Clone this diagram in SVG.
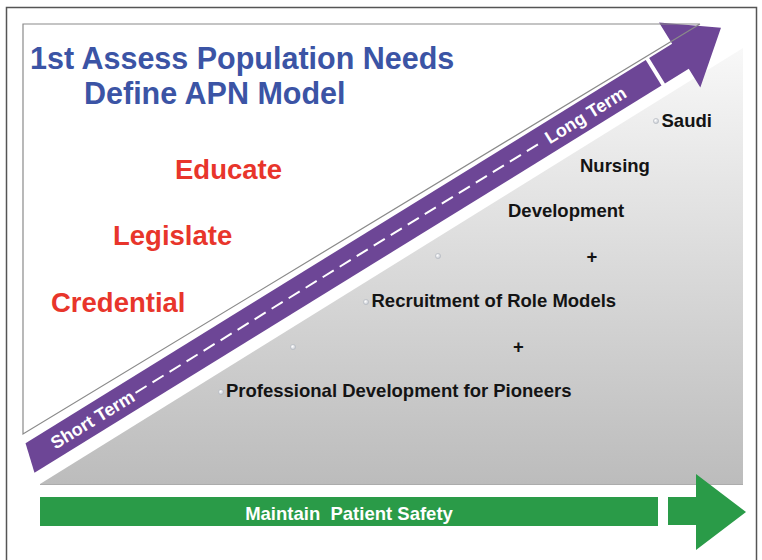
<svg xmlns="http://www.w3.org/2000/svg" width="762" height="560" viewBox="0 0 762 560">
<defs>
<linearGradient id="grayGrad" x1="0" y1="48" x2="0" y2="484" gradientUnits="userSpaceOnUse">
<stop offset="0" stop-color="#f8f8f8"/>
<stop offset="1" stop-color="#bcbcbc"/>
</linearGradient>
<radialGradient id="dotGrad" cx="0.4" cy="0.4" r="0.6">
<stop offset="0" stop-color="#ffffff"/>
<stop offset="1" stop-color="#c4c8d0"/>
</radialGradient>
</defs>
<style>
text{font-family:"Liberation Sans",Arial,Helvetica,sans-serif;font-weight:bold}
.title{font-size:30.5px;fill:#3b54a5}
.red{font-size:27.5px;fill:#e8352b}
.blk{font-size:18.5px;fill:#141414}
.wht{font-size:18px;fill:#ffffff}
.dot{fill:url(#dotGrad);stroke:#b4b8c0;stroke-width:0.6}
.purple{fill:#6d4696}
.green{fill:#2a9b48}
</style>
<rect width="762" height="560" fill="#ffffff"/>
<rect x="6.5" y="7.5" width="750" height="600" fill="#ffffff" stroke="#555555" stroke-width="1.5"/>

<g id="background-triangles">
<polygon points="23,24 700,24 23,434" fill="#ffffff"/>
<polygon points="40,484 743,48 743,484" fill="url(#grayGrad)"/>
<line x1="40" y1="484.5" x2="743" y2="484.5" stroke="#acacac" stroke-width="1"/>
</g>

<g id="connectors">
<g id="term-arrow" transform="translate(30,458) rotate(-31.7)">
<polygon class="purple" points="4,-15 733,-15 733,15 -4,15"/>
<polygon class="purple" points="737,-15 764,-15 764,-40 814,-3 765,37 765,15 737,15"/>
<line x1="124" y1="0" x2="604" y2="0" stroke="#ffffff" stroke-width="2" stroke-dasharray="13 7"/>
<text class="wht" x="26" y="6.5">Short Term</text>
<text class="wht" x="607" y="6.5">Long Term</text>
</g>
<g id="safety-arrow">
<rect class="green" x="40" y="497" width="618" height="29"/>
<polygon class="green" points="668,497 696,497 696,474 746,512 696,550 696,525 668,525"/>
<text x="349" y="519.5" text-anchor="middle" xml:space="preserve" style="font-size:18.5px;fill:#ffffff">Maintain  Patient Safety</text>
</g>
</g>

<polyline id="outline" points="700,24 23,24 23,434 700,24" fill="none" stroke="#8a8a8a" stroke-width="1.2"/>

<g id="title">
<text class="title" x="30" y="69">1st Assess Population Needs</text>
<text class="title" x="84" y="104">Define APN Model</text>
</g>
<g id="educate"><text class="red" x="175" y="178.5">Educate</text></g>
<g id="legislate"><text class="red" x="113" y="245">Legislate</text></g>
<g id="credential"><text class="red" x="51" y="312">Credential</text></g>

<g id="saudi"><circle class="dot" cx="656" cy="121" r="2.6"/><text class="blk" x="661.5" y="126.5">Saudi</text></g>
<g id="nursing"><text class="blk" x="580" y="171.5">Nursing</text></g>
<g id="development"><text class="blk" x="508" y="216.5">Development</text></g>
<g id="plus1"><circle class="dot" cx="438" cy="256" r="2.6"/><text class="blk" x="592" y="263" text-anchor="middle">+</text></g>
<g id="recruitment"><circle class="dot" cx="366" cy="302" r="2.6"/><text class="blk" x="371.5" y="306.7">Recruitment of Role Models</text></g>
<g id="plus2"><circle class="dot" cx="293" cy="347" r="2.6"/><text class="blk" x="518.5" y="353" text-anchor="middle">+</text></g>
<g id="professional"><circle class="dot" cx="221" cy="392" r="2.6"/><text class="blk" x="226" y="396.7">Professional Development for Pioneers</text></g>
</svg>
